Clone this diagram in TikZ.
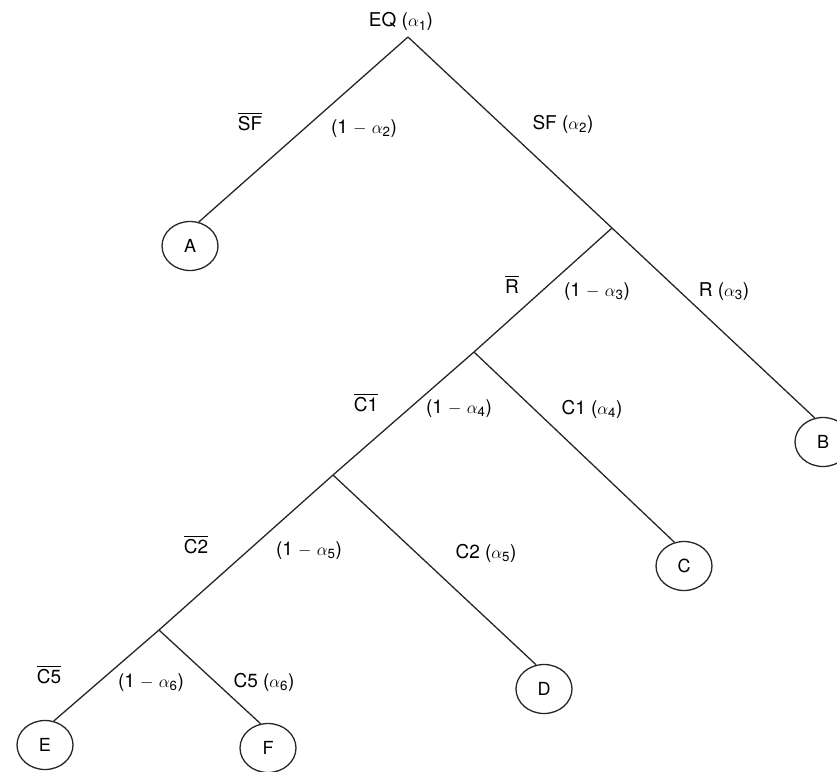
\documentclass[tikz,border=0pt]{standalone}
\usepackage{amsmath}
\usepackage{fontspec}
\setmainfont{TeX Gyre Heros}
\usetikzlibrary{shapes.geometric}
\begin{document}
\begin{tikzpicture}[x=1pt,y=-1pt,
  edge/.style={line width=1.3pt, draw=black!85},
  leaf/.style={ellipse, draw=black!85, line width=1.3pt, minimum width=56pt, minimum height=49pt, inner sep=0pt, font=\fontsize{18}{20}\selectfont},
  lbl/.style={anchor=base, inner sep=0pt, font=\fontsize{19}{22}\selectfont}]
\useasboundingbox (0,0) rectangle (837,771);
% branching points
\coordinate (root) at (408,37);
\coordinate (s1) at (612,228);
\coordinate (s2) at (474,352);
\coordinate (s3) at (333,475);
\coordinate (s4) at (159,630);
% leaves
\node[leaf] (A) at (190,246) {A};
\node[leaf] (B) at (823,442) {B};
\node[leaf] (C) at (684,566) {C};
\node[leaf] (D) at (544,689) {D};
\node[leaf] (E) at (45,745) {E};
\node[leaf] (F) at (268,748) {F};
% edges
\draw[edge] (root) -- (A.70);
\draw[edge] (root) -- (s1);
\draw[edge] (s1) -- (B.109);
\draw[edge] (s1) -- (s2);
\draw[edge] (s2) -- (C.112);
\draw[edge] (s2) -- (s3);
\draw[edge] (s3) -- (D.108);
\draw[edge] (s3) -- (s4);
\draw[edge] (s4) -- (E.70);
\draw[edge] (s4) -- (F.107);
% labels
\node[lbl] (lEQ) at (401,27) {EQ ($\alpha_{\text{1}}$)};
\node[lbl] (lSFn) at (250,130) {$\overline{\mbox{SF}}$};
\node[lbl] (lp2n) at (364,133) {(1 $-$ $\alpha_{\text{2}}$)};
\node[lbl] (lSF) at (563,129) {SF ($\alpha_{\text{2}}$)};
\node[lbl] (lRn) at (512,293) {$\overline{\mbox{R}}$};
\node[lbl] (lp3n) at (597,296) {(1 $-$ $\alpha_{\text{3}}$)};
\node[lbl] (lR) at (724,296) {R ($\alpha_{\text{3}}$)};
\node[lbl] (lC1n) at (366,411) {$\overline{\mbox{C1}}$};
\node[lbl] (lp4n) at (459,413) {(1 $-$ $\alpha_{\text{4}}$)};
\node[lbl] (lC1) at (592,414) {C1 ($\alpha_{\text{4}}$)};
\node[lbl] (lC2n) at (196,553) {$\overline{\mbox{C2}}$};
\node[lbl] (lp5n) at (309,555) {(1 $-$ $\alpha_{\text{5}}$)};
\node[lbl] (lC2) at (486,558) {C2 ($\alpha_{\text{5}}$)};
\node[lbl] (lC5n) at (49,683) {$\overline{\mbox{C5}}$};
\node[lbl] (lp6n) at (151,687) {(1 $-$ $\alpha_{\text{6}}$)};
\node[lbl] (lC5) at (264,687) {C5 ($\alpha_{\text{6}}$)};
\end{tikzpicture}
\end{document}
